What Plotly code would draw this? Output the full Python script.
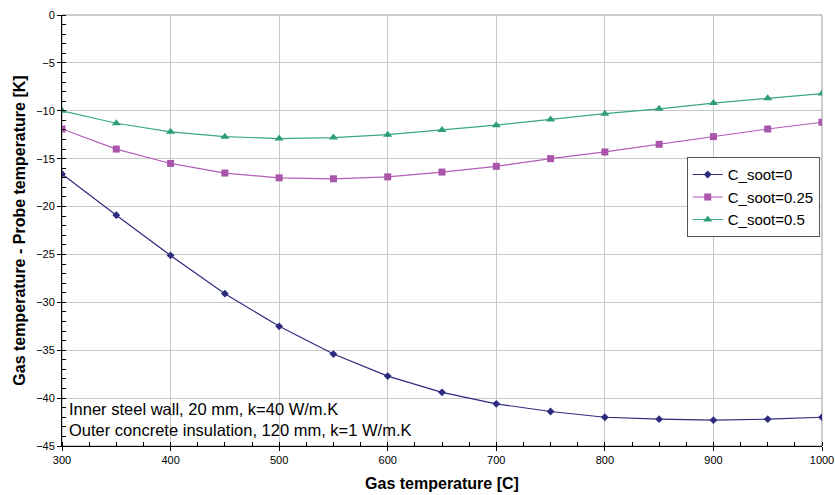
import plotly.graph_objects as go

gas_temp = [300, 350, 400, 450, 500, 550, 600, 650, 700, 750, 800, 850, 900, 950, 1000]
soot_0 = [-16.6, -20.9, -25.1, -29.1, -32.5, -35.4, -37.7, -39.4, -40.6, -41.4, -42.0, -42.2, -42.3, -42.2, -42.0]
soot_025 = [-11.9, -14.0, -15.5, -16.5, -17.0, -17.1, -16.9, -16.4, -15.8, -15.0, -14.3, -13.5, -12.7, -11.9, -11.2]
soot_05 = [-10.0, -11.3, -12.2, -12.7, -12.9, -12.8, -12.5, -12.0, -11.5, -10.9, -10.3, -9.8, -9.2, -8.7, -8.2]

font = "Liberation Sans, Arial, sans-serif"
fig = go.Figure()
fig.add_trace(go.Scatter(x=gas_temp, y=soot_0, name="C_soot=0", mode="lines+markers",
                         line=dict(color="#2E2A7E", width=1.2),
                         marker=dict(symbol="diamond", size=6, color="#2E2A7E")))
fig.add_trace(go.Scatter(x=gas_temp, y=soot_025, name="C_soot=0.25", mode="lines+markers",
                         line=dict(color="#B35DB8", width=1.2),
                         marker=dict(symbol="square", size=7, color="#A855AA")))
fig.add_trace(go.Scatter(x=gas_temp, y=soot_05, name="C_soot=0.5", mode="lines+markers",
                         line=dict(color="#3AA883", width=1.2),
                         marker=dict(symbol="triangle-up", size=8, color="#2E9E78")))

fig.add_annotation(xref="paper", yref="paper", x=0.0, y=0.012, xanchor="left", yanchor="bottom",
                   xshift=5, align="left", showarrow=False,
                   text="Inner steel wall, 20 mm, k=40 W/m.K<br>Outer concrete insulation, 120 mm, k=1 W/m.K",
                   font=dict(family=font, size=16.5, color="black"))

fig.update_layout(
    width=835, height=495,
    margin=dict(l=62, r=13, t=15, b=49, autoexpand=False),
    paper_bgcolor="white", plot_bgcolor="white",
    font=dict(family=font, size=11, color="black"),
    legend=dict(x=0.822, y=0.67, xanchor="left", yanchor="top",
                bordercolor="#555555", borderwidth=1, bgcolor="white",
                font=dict(family=font, size=15), tracegroupgap=0, itemwidth=30),
    xaxis=dict(range=[300, 1000], dtick=100, showgrid=True, gridcolor="#C8C8C8", gridwidth=1,
               showline=True, linecolor="black", linewidth=1, ticks="outside", ticklen=4,
               tickcolor="black", mirror=False, zeroline=False, automargin=False,
               minor=dict(dtick=25, ticks="inside", ticklen=4, tickcolor="black", showgrid=False),
               title=dict(text="<b>Gas temperature [C]</b>", font=dict(family=font, size=16), standoff=12)),
    yaxis=dict(range=[-45, 0], dtick=5, showgrid=True, gridcolor="#C8C8C8", gridwidth=1,
               showline=True, linecolor="black", linewidth=1, ticks="outside", ticklen=4,
               tickcolor="black", zeroline=False, automargin=False,
               minor=dict(dtick=1, ticks="inside", ticklen=4, tickcolor="black", showgrid=False),
               title=dict(text="<b>Gas temperature - Probe temperature [K]</b>", font=dict(family=font, size=16), standoff=6)),
)
fig.add_shape(type="rect", xref="paper", yref="paper", x0=0, y0=0, x1=1, y1=1,
              line=dict(color="#999999", width=1), layer="below")

fig.write_html("out.html", config={"displayModeBar": False},
               post_script="document.body.style.margin='0';document.body.style.overflow='hidden';")
